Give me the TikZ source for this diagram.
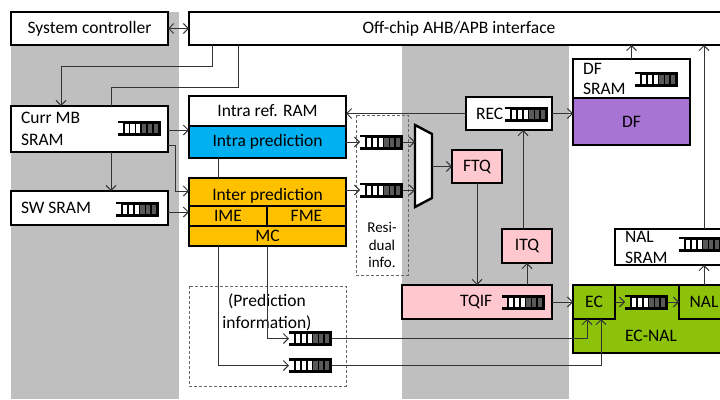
\documentclass[tikz,border=0pt]{standalone}
\usepackage{fontspec}
\setmainfont{Carlito}
\usetikzlibrary{arrows.meta,calc}
\definecolor{band}{HTML}{BFBFBF}
\definecolor{bluef}{HTML}{00B0F0}
\definecolor{orangef}{HTML}{FFC000}
\definecolor{pinkf}{HTML}{FFC7CE}
\definecolor{purplef}{HTML}{A874D4}
\definecolor{greenf}{HTML}{8CC20A}
\definecolor{cellg}{HTML}{595959}
\definecolor{linec}{HTML}{333333}
\definecolor{dashc}{HTML}{666666}
\newcommand\fifocells[2]{%
  \fill[#2] ($(#1.north west)+(0,2.6)$) rectangle ($(#1.north west)+(5,12.4)$);
  \foreach \i in {0,1,2} \fill[white] ($(#1.north west)+({7+\i*5.8},3)$) rectangle ++(4.2,9);
  \foreach \i in {3,4,5} \fill[cellg] ($(#1.north west)+({7+\i*5.8},3)$) rectangle ++(4.2,9);
}
\begin{document}
\begin{tikzpicture}[x=1pt,y=-1pt,
  font=\fontsize{17.5}{20}\selectfont,
  blk/.style={draw=black, line width=2.4pt, rectangle, inner sep=0pt, outer sep=0pt},
  txt/.style={inner sep=0pt, outer sep=0pt, align=left},
  ln/.style={draw=linec, line width=1pt},
  arr/.style={ln, -{Straight Barb[length=5pt,width=10pt]}},
  dashbox/.style={draw=dashc, line width=0.9pt, dash pattern=on 3pt off 2pt},
  fifo/.style={rectangle, fill=black, minimum width=43pt, minimum height=15pt,
    inner sep=0pt, outer sep=0pt}]
\useasboundingbox (0,0) rectangle (720,399);
\clip (0,0) rectangle (720,399);
\fill[white] (0,0) rectangle (720,399);
% gray bands
\fill[band] (11,12) rectangle (179,399);
\fill[band] (402,12) rectangle (569,399);

% dashed boxes
\draw[dashbox] (356,115) rectangle (408,275);
\node[txt, align=center, font=\fontsize{15}{17.5}\selectfont] (tres) at (382,245) {Resi-\\dual\\info.};
\draw[dashbox] (189,286) rectangle (346,386);
\node[txt, align=center, font=\fontsize{17.5}{22}\selectfont] (tpred) at (267,312) {(Prediction\\information)};

% boxes
\node[blk, fill=white, minimum width=157pt, minimum height=33pt] (sys) at (89.5,28.5) {System controller};
\node[blk, fill=white, minimum width=540pt, minimum height=33pt] (iface) at (459,28.5) {Off-chip AHB/APB interface};
\node[blk, fill=white, minimum width=157pt, minimum height=46pt] (currmb) at (89.5,129) {};
\node[txt, anchor=west, font=\fontsize{17.5}{22}\selectfont] (tcurr) at (21,129) {Curr MB\\SRAM};
\node[blk, fill=white, minimum width=157pt, minimum height=34pt] (swsram) at (89.5,208) {};
\node[txt, anchor=west] (tsw) at (21,208) {SW SRAM};

\node[blk, fill=white, minimum width=157pt, minimum height=30pt] (intraref) at (267.5,111) {Intra ref. RAM};
\node[blk, fill=bluef, minimum width=157pt, minimum height=32pt] (intrapred) at (267.5,142) {Intra prediction};
\node[blk, fill=orangef, minimum width=157pt, minimum height=28pt] (interpred) at (267.5,192) {};
\node[txt] (tinter) at (267.5,196) {Inter prediction};
\node[blk, fill=orangef, minimum width=78pt, minimum height=20pt] (ime) at (228,216) {IME};
\node[blk, fill=orangef, minimum width=79pt, minimum height=20pt] (fme) at (306.5,216) {FME};
\node[blk, fill=orangef, minimum width=157pt, minimum height=20pt] (mc) at (267.5,236) {MC};

\draw[blk, fill=white] (415,125) -- (432,134) -- (432,198) -- (415,207) -- cycle;
\coordinate (muxa) at (415,142);
\coordinate (muxb) at (415,190);
\coordinate (muxo) at (432,166.5);

\node[blk, fill=white, minimum width=86pt, minimum height=33pt] (rec) at (509,113.5) {};
\node[txt, anchor=west] (trec) at (476,114) {REC};
\node[blk, fill=pinkf, minimum width=50pt, minimum height=33pt] (ftq) at (477,166.5) {FTQ};
\node[blk, fill=pinkf, minimum width=50pt, minimum height=34pt] (itq) at (527,246) {ITQ};
\node[blk, fill=pinkf, minimum width=150pt, minimum height=34pt] (tqif) at (477,302) {};
\node[txt, anchor=west] (ttqif) at (460,302) {TQIF};

\node[blk, fill=white, minimum width=117pt, minimum height=39pt] (dfsram) at (631.5,78.5) {};
\node[txt, anchor=west] (tdfsram) at (583,79) {DF\\SRAM};
\node[blk, fill=purplef, minimum width=117pt, minimum height=47pt] (df) at (631.5,121.5) {DF};

\node[blk, fill=white, minimum width=178pt, minimum height=36pt] (nalsram) at (704,247) {};
\node[txt, anchor=west, font=\fontsize{17.5}{21}\selectfont] (tnalsram) at (625,247) {NAL\\SRAM};
\node[blk, fill=greenf, minimum width=156pt, minimum height=68pt] (ecnal) at (651,319) {};
\node[txt] (tecnal) at (651,336) {EC-NAL};
\node[blk, fill=greenf, minimum width=42pt, minimum height=34pt] (ec) at (594,302) {EC};
\node[blk, fill=greenf, minimum width=50pt, minimum height=34pt] (nal) at (704,302) {NAL};

% fifos
\node[fifo] (fcurr) at (139,128) {};   \fifocells{fcurr}{white}
\node[fifo] (fsw) at (137.5,209) {};   \fifocells{fsw}{white}
\node[fifo] (fintra) at (381.5,142) {};\fifocells{fintra}{white}
\node[fifo] (finter) at (381.5,190) {};\fifocells{finter}{white}
\node[fifo] (frec) at (526.5,114) {};  \fifocells{frec}{white}
\node[fifo] (fdf) at (656.5,79) {};    \fifocells{fdf}{white}
\node[fifo] (ftqif) at (523.5,302.5) {};\fifocells{ftqif}{pinkf}
\node[fifo] (fecnal) at (646.5,302) {};\fifocells{fecnal}{greenf}
\node[fifo] (fnal) at (700.5,244) {};  \fifocells{fnal}{white}
\node[fifo] (fpi1) at (310.5,338.5) {};\fifocells{fpi1}{white}
\node[fifo] (fpi2) at (310.5,365.5) {};\fifocells{fpi2}{white}

% connectors
\draw[ln, {Straight Barb[length=5pt,width=10pt]}-{Straight Barb[length=5pt,width=10pt]}] (sys.east) -- (iface.west);
\draw[arr] ($(iface.south west)+(23,0)$) |- ($(currmb.north west)+(50,-40)$) -- ($(currmb.north west)+(50,0)$);
\draw[ln] ($(iface.south west)+(49,0)$) |- ($(currmb.north west)+(100,-19)$) -- ($(currmb.north west)+(100,0)$);
\draw[arr] ($(currmb.east)+(0,1)$) -- ($(currmb.east -| intrapred.west)+(0,1)$);
\draw[arr] ($(currmb.east)+(0,16)$) -- ++(7,0) |- ($(interpred.west)+(0,-1)$);
\draw[arr] ($(currmb.south west)+(100,0)$) -- ($(swsram.north west)+(100,0)$);
\draw[arr] ($(swsram.east)+(0,4)$) -- ($(swsram.east -| ime.west)+(0,4)$);
\draw[ln] ($(intrapred.south west)+(29,0)$) -- ($(interpred.north west)+(29,0)$);
\draw[arr] (intrapred.east) -- (fintra.west);
\draw[arr] (fintra.east) -- (muxa);
\draw[arr] (interpred.east |- finter) -- (finter.west);
\draw[arr] (finter.east) -- (muxb);
\draw[arr] (muxo) -- (muxo -| ftq.west);
\draw[arr] (ftq.south) -- (ftq.south |- tqif.north);
\draw[arr] (itq.south |- tqif.north) -- (itq.south);
\draw[arr] ($(itq.north)+(-4,0)$) -- ($(itq.north |- rec.south)+(-4,0)$);
\draw[arr] (rec.west) -- (rec.west -| intraref.east);
\draw[arr] (rec.east) -- (rec.east -| df.west);
\draw[arr] (dfsram.north) -- (dfsram.north |- iface.south);
\draw[arr] (nalsram.north) -- (nalsram.north |- iface.south);
\draw[arr] (nal.north) -- (nal.north |- nalsram.south);
\draw[arr] (tqif.east) -- (ec.west);
\draw[arr] (ec.east) -- (fecnal.west);
\draw[arr] (fecnal.east) -- (nal.west);
\draw[arr] ($(mc.south west)+(29,0)$) |- (fpi2.west);
\draw[arr] ($(mc.south west)+(78,0)$) |- (fpi1.west);
\draw[arr] (fpi1.east) -| ($(ec.south west)+(14,0)$);
\draw[arr] (fpi2.east) -| ($(ec.south west)+(28,0)$);
\end{tikzpicture}
\end{document}
